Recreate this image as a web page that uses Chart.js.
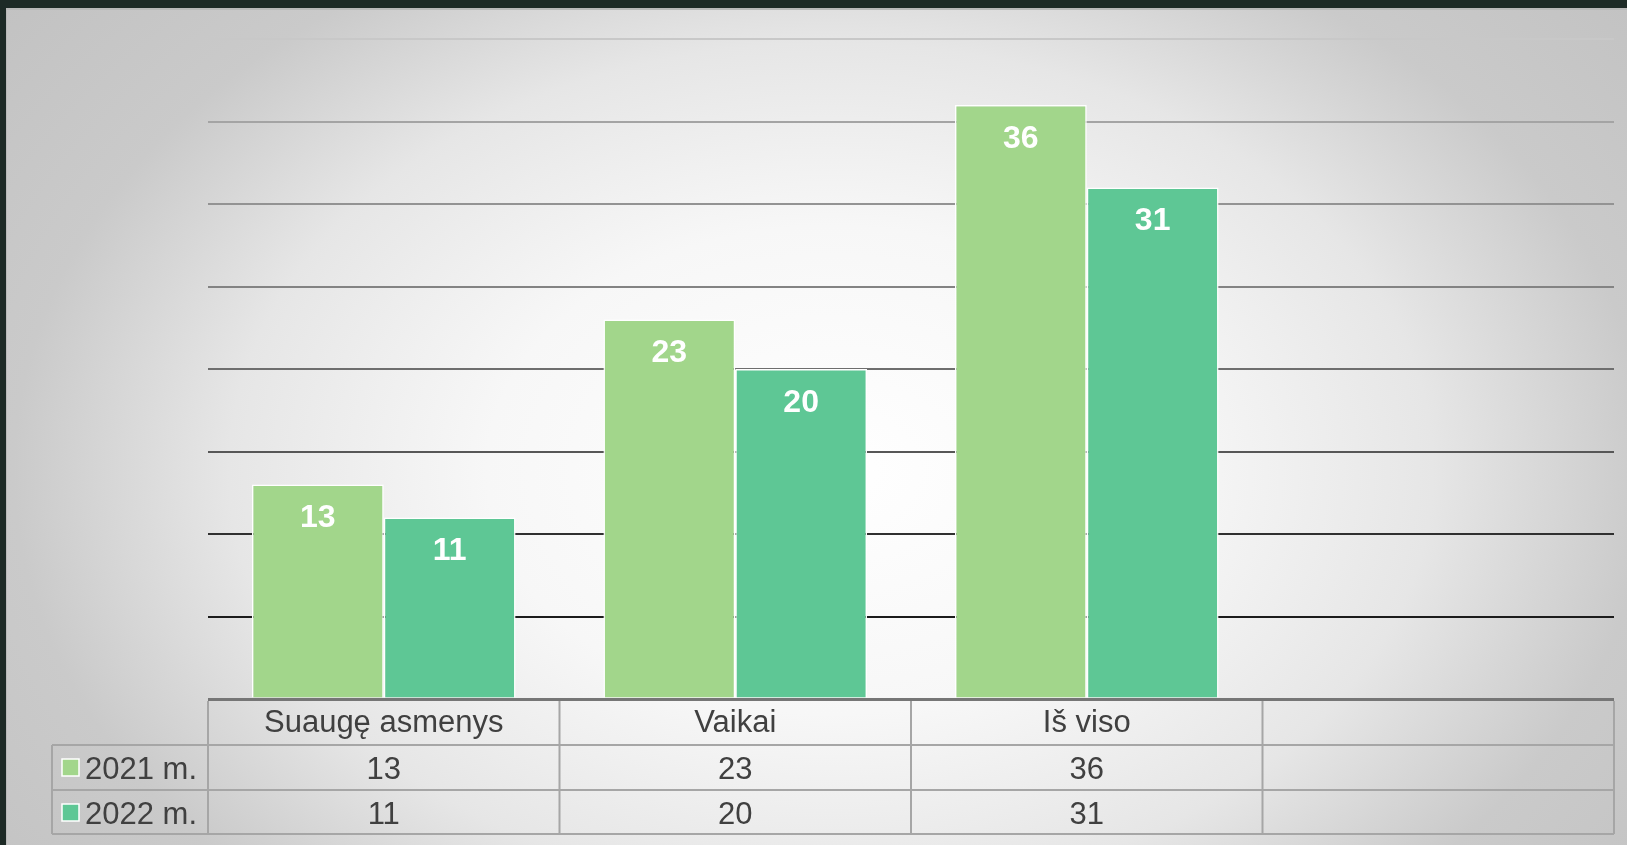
<!DOCTYPE html>
<html>
<head>
<meta charset="utf-8">
<script src="https://cdn.jsdelivr.net/npm/chart.js@4.4.1/dist/chart.umd.min.js"></script>
<style>
  html, body { margin: 0; padding: 0; background: #1d2a26; }
  #frame { position: relative; width: 1627px; height: 845px; background: #1d2a26; overflow: hidden; }
  #panel {
    position: absolute; left: 6px; top: 8px; width: 1621px; height: 837px;
    background: radial-gradient(ellipse 860px 610px at 824px 460px, #ffffff 0%, #f7f7f7 40%, #e6e6e6 70%, #cacaca 95%, #c0c0c0 130%);
    border-left: 1px solid #b8b8b8; border-top: 2px solid #b8b8b8; box-sizing: border-box;
  }
  canvas { position: absolute; left: 0; top: 0; }
</style>
</head>
<body>
<div id="frame">
  <div id="panel"></div>
  <canvas id="c" width="1627" height="845"></canvas>
</div>
<script>
const categories = ['Suaugę asmenys', 'Vaikai', 'Iš viso', ''];
const seriesNames = ['2021 m.', '2022 m.'];
const values2021 = [13, 23, 36, null];
const values2022 = [11, 20, 31, null];
const seriesColors = ['#a2d68b', '#5ec795'];

const FONT = '"Liberation Sans", Arial, sans-serif';
const TEXT = '#404040';
const gridColors = { 40: '#c8c8c8', 35: '#a4a4a4', 30: '#939393', 25: '#838383', 20: '#6e6e6e', 15: '#575757', 10: '#303030', 5: '#1c1c1c', 0: '#767676' };

const barLabels = {
  id: 'barLabels',
  afterDatasetsDraw(chart) {
    const ctx = chart.ctx;
    ctx.save();
    ctx.fillStyle = '#ffffff';
    ctx.font = 'bold 32px ' + FONT;
    ctx.textAlign = 'center';
    ctx.textBaseline = 'alphabetic';
    chart.data.datasets.forEach((ds, di) => {
      const meta = chart.getDatasetMeta(di);
      meta.data.forEach((bar, i) => {
        const v = ds.data[i];
        if (v === null || v === undefined) return;
        ctx.fillText(String(v), bar.x, bar.y + 42.5);
      });
    });
    ctx.restore();
  }
};

const dataTable = {
  id: 'dataTable',
  afterDraw(chart) {
    const ctx = chart.ctx;
    const xs = chart.scales.x;
    const area = chart.chartArea;
    const n = categories.length;
    const step = xs.getPixelForValue(1) - xs.getPixelForValue(0);
    const left = xs.getPixelForValue(0) - step / 2;
    const right = xs.getPixelForValue(n - 1) + step / 2;
    const top = area.bottom;
    const rowH = 45;
    const r1 = top + 46, r2 = r1 + rowH, r3 = r2 + 44;
    const legendLeft = 52;
    ctx.save();
    ctx.strokeStyle = '#a6a6a6';
    ctx.lineWidth = 2;
    ctx.beginPath();
    ctx.moveTo(legendLeft, r1); ctx.lineTo(right, r1);
    ctx.moveTo(legendLeft, r2); ctx.lineTo(right, r2);
    ctx.moveTo(legendLeft, r3); ctx.lineTo(right, r3);
    for (let i = 0; i <= n; i++) {
      const x = left + i * step;
      ctx.moveTo(x, top + 2); ctx.lineTo(x, r3);
    }
    ctx.moveTo(legendLeft, r1); ctx.lineTo(legendLeft, r3);
    ctx.stroke();

    const rows = [values2021, values2022];
    const rowTops = [r1, r2];
    ctx.font = '31px ' + FONT;
    ctx.textBaseline = 'alphabetic';
    rows.forEach((vals, ri) => {
      const rt = rowTops[ri];
      ctx.fillStyle = seriesColors[ri];
      ctx.fillRect(62, rt + 14, 17, 17);
      ctx.strokeStyle = '#ffffff';
      ctx.lineWidth = 1.5;
      ctx.strokeRect(62, rt + 14, 17, 17);
      ctx.fillStyle = TEXT;
      ctx.textAlign = 'left';
      ctx.fillText(seriesNames[ri], 85, rt + 34);
      ctx.textAlign = 'center';
      vals.forEach((v, i) => {
        if (v === null || v === undefined) return;
        ctx.fillText(String(v), xs.getPixelForValue(i), rt + 34);
      });
    });
    ctx.restore();
  }
};

new Chart(document.getElementById('c'), {
  type: 'bar',
  data: {
    labels: categories,
    datasets: [
      { label: seriesNames[0], data: values2021, backgroundColor: seriesColors[0], borderColor: '#ffffff', borderWidth: 1.5, categoryPercentage: 0.75, barPercentage: 1.0 },
      { label: seriesNames[1], data: values2022, backgroundColor: seriesColors[1], borderColor: '#ffffff', borderWidth: 1.5, categoryPercentage: 0.75, barPercentage: 1.0 }
    ]
  },
  options: {
    responsive: false,
    animation: false,
    devicePixelRatio: 1,
    layout: { padding: { left: 208, right: 13, top: 39, bottom: 0 } },
    plugins: { legend: { display: false }, tooltip: { enabled: false } },
    scales: {
      x: {
        grid: { display: false, drawTicks: false },
        border: { display: false },
        ticks: { font: { family: FONT, size: 31 }, color: TEXT, padding: 6, maxRotation: 0, autoSkip: false },
        afterFit(s) { s.height = 146; }
      },
      y: {
        min: 0, max: 40,
        ticks: { display: false, stepSize: 5 },
        border: { display: false },
        grid: {
          drawTicks: false,
          color: c => gridColors[c.tick.value] || '#888888',
          lineWidth: c => c.tick.value === 0 ? 3 : 2
        },
        afterFit(s) { s.width = 0; }
      }
    }
  },
  plugins: [barLabels, dataTable]
});
</script>
</body>
</html>
